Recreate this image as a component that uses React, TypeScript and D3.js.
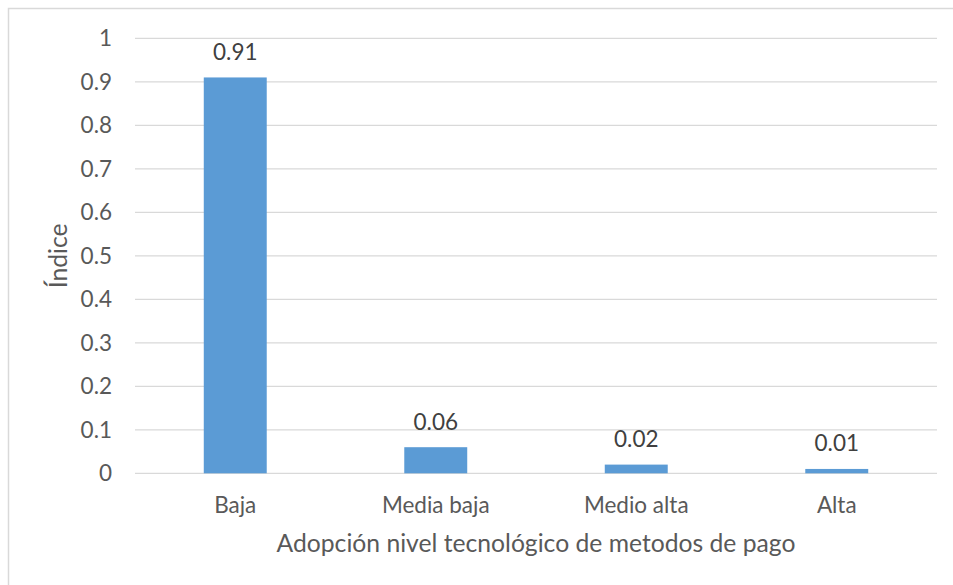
import React from "react";
import * as d3 from "d3";

const categories = ["Baja", "Media baja", "Medio alta", "Alta"];
const values = [0.91, 0.06, 0.02, 0.01];
const yTicks = [0, 0.1, 0.2, 0.3, 0.4, 0.5, 0.6, 0.7, 0.8, 0.9, 1];
const xTitle = "Adopción nivel tecnológico de metodos de pago";
const yTitle = "Índice";

const W = 953;
const H = 585;
const plot = { left: 135, right: 937, top: 38.3, bottom: 473.3 };
const FONT = "Lato, 'Open Sans', sans-serif";
const TICK_FS = 22.5;
const TITLE_FS = 24.7;

export default function App() {
  const x = d3
    .scaleBand<string>()
    .domain(categories)
    .range([plot.left, plot.right])
    .paddingInner(0.686)
    .paddingOuter(0.343);
  const y = d3.scaleLinear().domain([0, 1]).range([plot.bottom, plot.top]);
  const fmt = (v: number) => d3.format("~g")(+v.toFixed(2));

  return (
    <svg
      width={W}
      height={H}
      style={{ position: "absolute", left: 0, top: 0, background: "#fff" }}
      fontFamily={FONT}
    >
      <rect x={0} y={0} width={W} height={H} fill="#fff" />
      <rect x={8.5} y={8.5} width={W + 20} height={H + 20} fill="none" stroke="#d9d9d9" strokeWidth={1.5} />
      {yTicks.map((t) => (
        <g key={t}>
          <line x1={plot.left} x2={plot.right} y1={y(t)} y2={y(t)} stroke="#d9d9d9" strokeWidth={1.3} />
          <text x={112} y={y(t)} dy="0.36em" textAnchor="end" fontSize={TICK_FS} fill="#595959">
            {fmt(t)}
          </text>
        </g>
      ))}
      {categories.map((c, i) => (
        <g key={c}>
          <rect
            x={x(c)!}
            y={y(values[i])}
            width={x.bandwidth()}
            height={y(0) - y(values[i])}
            fill="#5B9BD5"
          />
          <text
            x={x(c)! + x.bandwidth() / 2}
            y={y(values[i]) - 17.5}
            textAnchor="middle"
            fontSize={TICK_FS}
            fill="#404040"
          >
            {fmt(values[i])}
          </text>
          <text
            x={x(c)! + x.bandwidth() / 2}
            y={512.5}
            textAnchor="middle"
            fontSize={TICK_FS}
            fill="#595959"
          >
            {c}
          </text>
        </g>
      ))}
      <text x={(plot.left + plot.right) / 2} y={552} textAnchor="middle" fontSize={TITLE_FS} fill="#595959">
        {xTitle}
      </text>
      <text
        transform={`translate(67,${(plot.top + plot.bottom) / 2}) rotate(-90)`}
        textAnchor="middle"
        fontSize={TITLE_FS}
        fill="#595959"
      >
        {yTitle}
      </text>
    </svg>
  );
}
